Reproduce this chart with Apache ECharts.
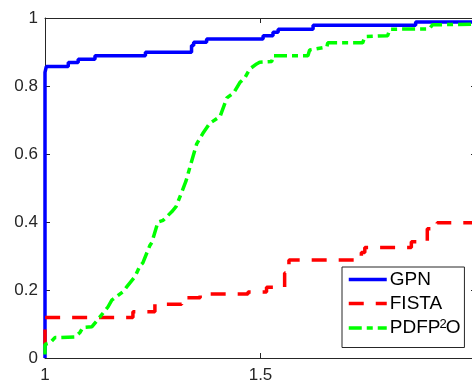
<!DOCTYPE html>
<html>
<head>
<meta charset="utf-8">
<script src="https://cdn.jsdelivr.net/npm/echarts@6/dist/echarts.min.js"></script>
<style>
  html, body { margin: 0; padding: 0; background: #fff; }
  #chart { width: 472px; height: 385px; }
</style>
</head>
<body>
<div id="chart"></div>
<script>
// Performance profiles: fraction of problems solved within a factor tau of the best.
const seriesNames = ['GPN', 'FISTA', 'PDFP2O'];

// [tau, fraction] pairs; GPN and FISTA are stair profiles.
const gpnProfile = [
  [1.000, 0.000], [1.000, 0.840], [1.003, 0.857], [1.054, 0.869], [1.077, 0.879],
  [1.116, 0.889], [1.233, 0.899], [1.340, 0.919], [1.345, 0.929], [1.375, 0.938],
  [1.506, 0.948], [1.529, 0.958], [1.541, 0.967], [1.622, 0.979], [1.860, 0.988],
  [2.000, 0.988]
];

const fistaProfile = [
  [1.000, 0.040], [1.000, 0.119], [1.204, 0.136], [1.255, 0.158], [1.317, 0.177],
  [1.360, 0.188], [1.471, 0.194], [1.514, 0.208], [1.556, 0.250], [1.566, 0.288],
  [1.734, 0.310], [1.742, 0.325], [1.850, 0.342], [1.887, 0.380], [1.910, 0.398],
  [2.000, 0.400]
];

const pdfpProfile = [
  [1.000, 0.010], [1.000, 0.040], [1.012, 0.045], [1.023, 0.060], [1.035, 0.060],
  [1.070, 0.062], [1.081, 0.075], [1.088, 0.090], [1.109, 0.092], [1.127, 0.120],
  [1.146, 0.150], [1.155, 0.170], [1.181, 0.195], [1.190, 0.210], [1.209, 0.240],
  [1.220, 0.270], [1.227, 0.280], [1.243, 0.330], [1.248, 0.340], [1.262, 0.400],
  [1.274, 0.405], [1.294, 0.430], [1.304, 0.445], [1.318, 0.490], [1.327, 0.520],
  [1.336, 0.560], [1.352, 0.630], [1.366, 0.660], [1.382, 0.690], [1.406, 0.710],
  [1.422, 0.765], [1.438, 0.780], [1.452, 0.810], [1.464, 0.825], [1.475, 0.850],
  [1.491, 0.865], [1.498, 0.870], [1.526, 0.872], [1.529, 0.889], [1.610, 0.889],
  [1.614, 0.906], [1.654, 0.915], [1.656, 0.927], [1.737, 0.927], [1.742, 0.945],
  [1.795, 0.948], [1.800, 0.967], [1.892, 0.968], [1.899, 0.980], [2.000, 0.982]
];

const xTicks = { min: 1, max: 2, interval: 0.5 };
const yTicks = { min: 0, max: 1, interval: 0.2 };

const axisColor = '#262626';
const fontFamily = '"Liberation Sans", Arial, Helvetica, sans-serif';

const lineStyles = {
  GPN: { color: '#0000ff', width: 3.5, type: 'solid' },
  FISTA: { color: '#ff0000', width: 3.5, type: [15, 12], cap: 'butt' },
  PDFP2O: { color: '#00ff00', width: 3.5, type: [13, 5, 6, 5], cap: 'butt' }
};

function boxAxis(position, ticks, showLabels, margin) {
  return {
    type: 'value',
    position: position,
    min: ticks.min,
    max: ticks.max,
    interval: ticks.interval,
    splitLine: { show: false },
    axisLine: { show: true, onZero: false, lineStyle: { color: axisColor, width: 1 } },
    axisTick: { show: true, inside: true, length: 5, lineStyle: { color: axisColor, width: 1 } },
    axisLabel: {
      show: showLabels,
      showMinLabel: true,
      showMaxLabel: true,
      hideOverlap: false,
      color: axisColor,
      fontSize: 17,
      fontFamily: fontFamily,
      margin: margin || 8
    }
  };
}

const chart = echarts.init(document.getElementById('chart'), null, { renderer: 'canvas' });

chart.setOption({
  backgroundColor: '#ffffff',
  animation: false,
  grid: {
    left: 45, top: 18, width: 431, height: 340,
    containLabel: false,
    outerBoundsMode: 'none'
  },
  xAxis: [
    boxAxis('bottom', xTicks, true, 9),
    boxAxis('top', xTicks, false)
  ],
  yAxis: [
    boxAxis('left', yTicks, true, 7),
    boxAxis('right', yTicks, false)
  ],
  legend: {
    orient: 'vertical',
    left: 342,
    top: 267,
    padding: [3, 4, 10, 5],
    itemGap: 5,
    itemWidth: 38,
    itemHeight: 14,
    backgroundColor: '#ffffff',
    borderColor: axisColor,
    borderWidth: 1,
    borderRadius: 0,
    selectedMode: false,
    data: seriesNames.map(function (n) {
      return { name: n, lineStyle: lineStyles[n] };
    }),
    itemStyle: { color: 'rgba(0,0,0,0)', borderColor: 'rgba(0,0,0,0)', borderWidth: 0 },
    formatter: function (name) {
      if (name === 'PDFP2O') return '{t|PDFP}{s|2}{t|O}';
      return '{t|' + name + '}';
    },
    textStyle: {
      color: '#000',
      padding: [0, 0, 0, -2],
      rich: {
        t: { fontSize: 19, fontFamily: fontFamily, color: '#000', lineHeight: 20 },
        s: { fontSize: 13, fontFamily: fontFamily, color: '#000', lineHeight: 20, verticalAlign: 'top', padding: [0, -1, 0, -1] }
      }
    }
  },
  series: seriesNames.map(function (n, i) {
    return {
      name: n,
      type: 'line',
      step: i < 2 ? 'end' : false,
      data: [gpnProfile, fistaProfile, pdfpProfile][i],
      showSymbol: false,
      symbol: 'none',
      lineStyle: lineStyles[n],
      itemStyle: { color: lineStyles[n].color }
    };
  })
});
</script>
</body>
</html>
